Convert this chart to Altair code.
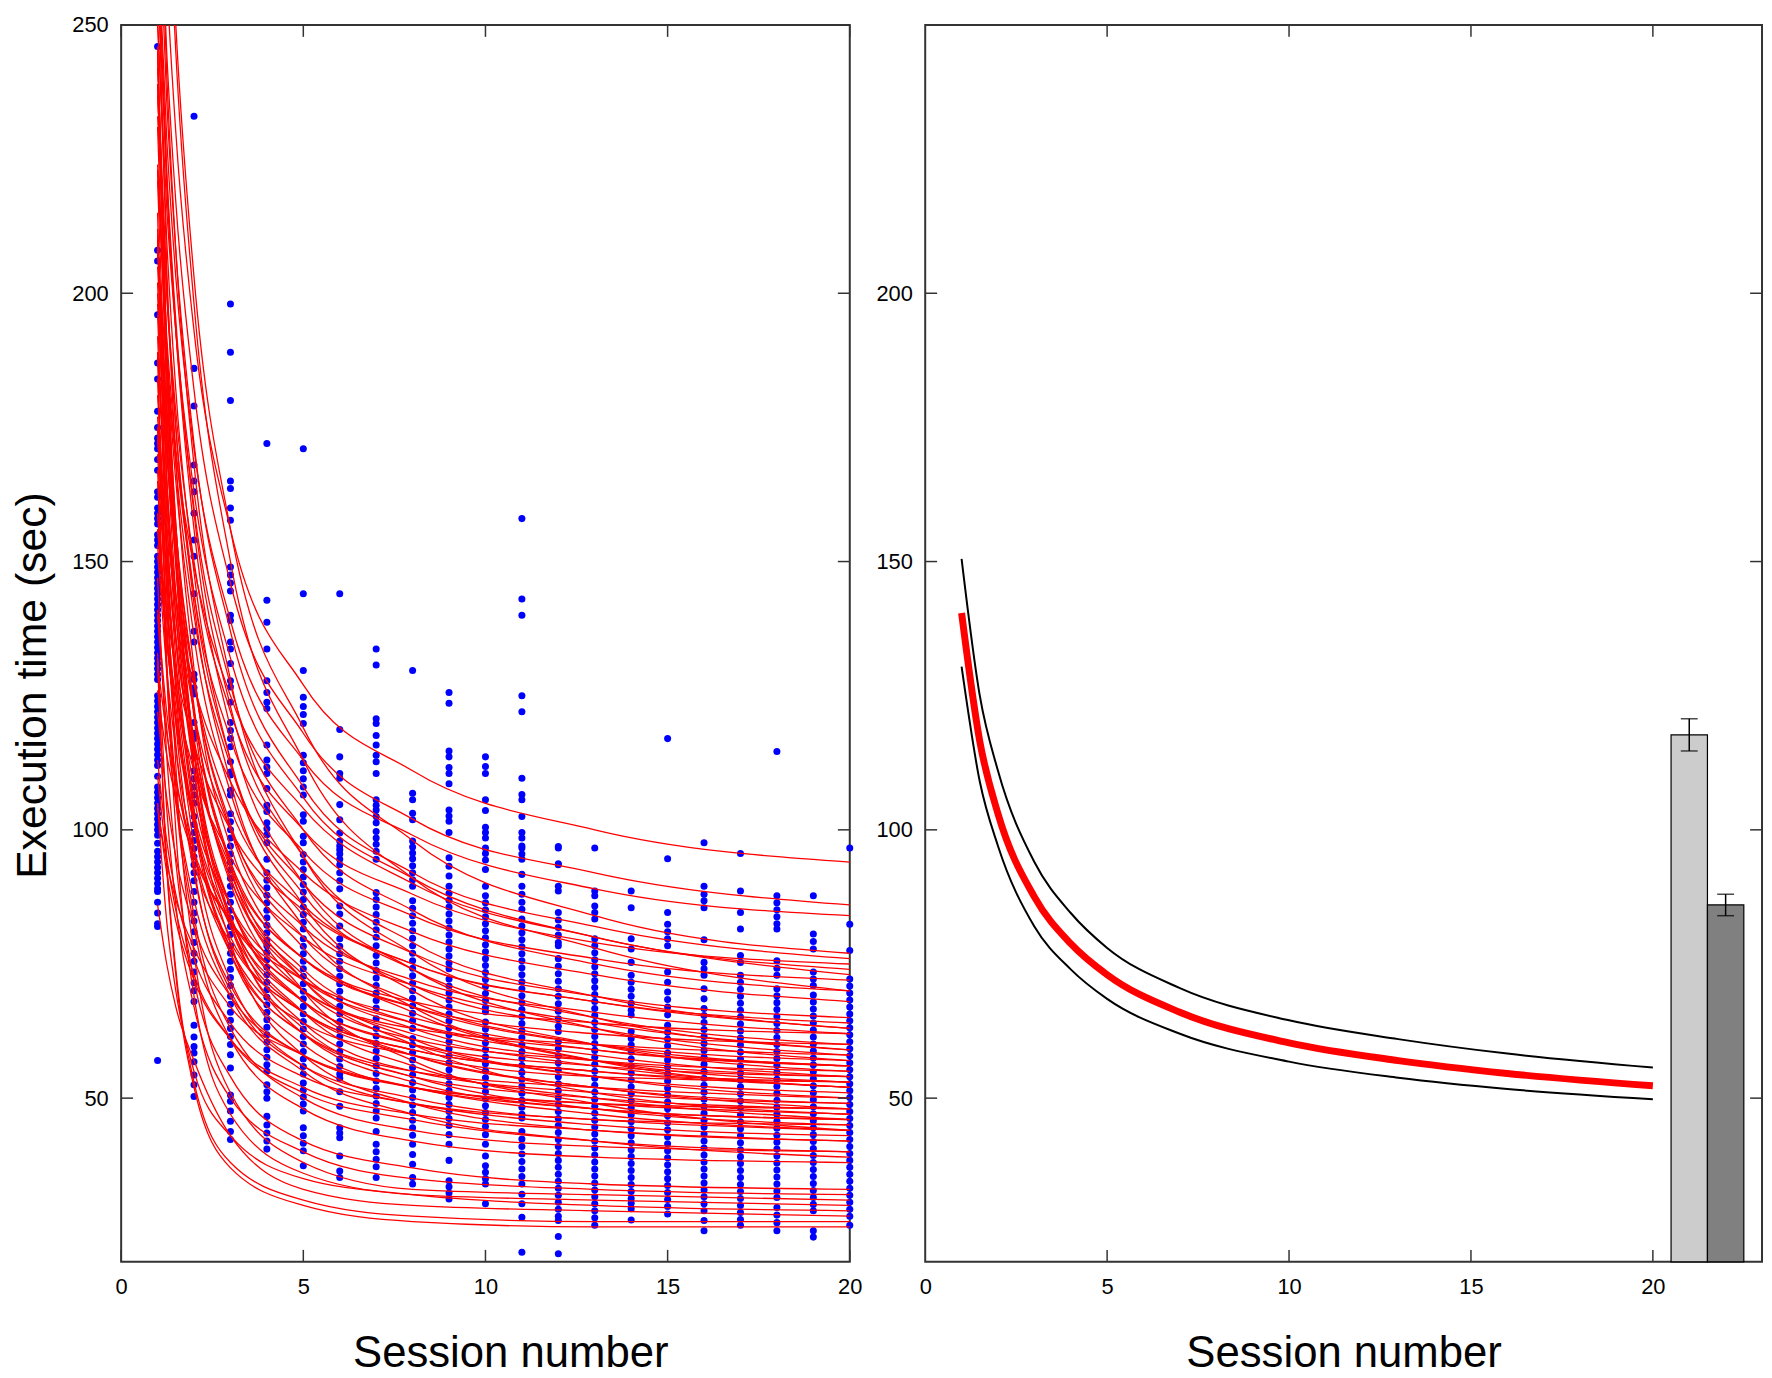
import altair as alt
import pandas as pd

# ---------------- data ----------------
# left panel: individual sessions (blue dots), one list per session
sess01 = [246, 208, 206, 196, 187, 184, 178, 175, 173, 172, 171, 169, 167, 163, 162, 160, 159, 158,
          157, 155, 154, 153, 151, 150, 149, 148, 147, 146, 145, 144, 143, 142, 141, 140, 139, 138,
          137, 136, 135, 134, 133, 132, 131, 130, 129, 128, 125, 124, 123, 122, 121, 120, 119, 118,
          117, 116, 115, 114, 113, 112, 110, 108, 107, 106, 105, 104, 103, 102, 101, 100, 99, 97.5,
          96, 95, 94, 93, 92, 91, 90, 89, 88.5, 86.5, 84.5, 82.5, 82, 57]
sess02 = [233, 186, 179, 168, 165, 163, 159, 154, 151, 144, 137, 135, 129, 128, 126.5, 125.3, 120,
          118, 117, 113.6, 111, 109.5, 108, 106.5, 105, 102.5, 101, 99.5, 98, 96.5, 95, 93.5, 92,
          90.5, 88.5, 86.5, 84.5, 83, 81, 79, 77, 75.5, 73.5, 71.5, 70, 68, 63.6, 61.4, 59.6, 58.4,
          56.8, 54.3, 52.5, 50.3]
sess03 = [198, 189, 180, 165, 163.6, 160, 157.7, 149, 147.5, 146, 144.5, 140, 139, 135, 133.7, 131,
          127.8, 126.6, 123.8, 120, 118.5, 117, 115.5, 112.7, 110.8, 110.2, 107.4, 106.5, 103, 101.5,
          100, 98.5, 97, 95.5, 94, 92.5, 91, 89.5, 88, 86.5, 85, 83.5, 82, 80.5, 78.4, 77, 75.5, 74,
          72.5, 71, 69, 67.5, 66, 64.5, 63, 61.5, 60, 58.1, 55.6, 50.6, 49.4, 47.6, 45.7, 43.8, 42.3]
sess04 = [172, 142.8, 138.7, 133.7, 127.8, 125.6, 123.8, 122.6, 115.8, 113, 111.7, 110.5, 107.7,
          104.6, 103.4, 101.3, 100.2, 99.1, 97.6, 94.5, 92, 90.6, 89.2, 87.8, 86.4, 85, 83.6, 82.2,
          80.8, 79.4, 78.4, 77.2, 75.8, 74.4, 73, 71.6, 70.2, 68.8, 67.4, 66, 64.6, 63.2, 61.8, 60.4,
          59, 57.6, 56.2, 55, 52.5, 51.2, 50, 46.6, 45, 43.5, 42, 40.5]
sess05 = [171, 144, 129.7, 124.7, 123, 121.5, 119.8, 113.9, 112.5, 111, 109.5, 108, 106.5, 102.8,
          101.6, 98.8, 97.6, 95.4, 94, 92.6, 91.2, 89.8, 88.4, 87, 85.6, 84.2, 82.8, 81.5, 79.7, 78.3,
          76.9, 75.5, 74.1, 72.7, 71.3, 69.9, 68.5, 67.1, 65.7, 64.3, 62.9, 61.5, 60.1, 58.7, 57.3,
          55.9, 54.5, 52.8, 51.5, 50.2, 48.9, 47.6, 44.5, 43, 41.6, 40.2, 37.4]
sess06 = [144, 118.7, 113.6, 110.5, 109.6, 104.7, 101.9, 99.4, 97.9, 97, 96.3, 95.5, 94.5, 93.5, 92,
          90.5, 89, 85.8, 84.3, 82.1, 79.7, 78.3, 76.9, 75.5, 74.1, 72.7, 71.3, 69.9, 68.5, 67.1, 65.7,
          64.3, 62.9, 61.5, 60.1, 58.7, 57.3, 55.9, 54.5, 53.7, 51.2, 48.5, 44.5, 43.5, 42.6, 39.2,
          36.4, 35.2]
sess07 = [133.7, 130.7, 120.7, 119.8, 117.6, 115.8, 113.9, 112.7, 110.5, 105.6, 104.6, 103.7, 102.5,
          101.3, 99.7, 98.5, 97.3, 96, 94.5, 88.3, 87, 85.6, 84.2, 82.8, 81.4, 80, 78.4, 76.6, 75.2,
          73.8, 72.4, 71, 69.6, 68.2, 66.8, 64.8, 63, 61.6, 60.2, 58.8, 57.4, 56, 54.6, 53.2, 51.8,
          50.4, 49, 47.6, 46.3, 43.8, 41.4, 40, 38.6, 37.2, 35.2]
sess08 = [129.7, 106.8, 105.6, 103.1, 101.9, 97.9, 96.8, 95.7, 94.6, 93.3, 92, 90.7, 89.5, 86.8,
          85.4, 84, 82.6, 81.2, 79.8, 78.4, 77, 75.6, 74.2, 72.8, 71.4, 70, 68.6, 67.2, 65.8, 64.4,
          63, 61.1, 59.9, 58.5, 57.1, 55.7, 54.3, 52.9, 51.5, 50.1, 48.7, 47.3, 45.9, 44.5, 43.1,
          41.4, 39.5, 37.7, 35.2, 34]
sess09 = [125.6, 123.6, 114.7, 113.6, 111.6, 110.5, 108.6, 103.7, 102.6, 101.6, 99.5, 94.8, 93.2,
          91.4, 89.5, 88.2, 86.9, 85.6, 84.3, 83, 81.7, 80.4, 79.1, 77.8, 76.5, 75.2, 74.1, 72.2,
          70.9, 69.6, 68.3, 67, 65.7, 64.4, 63.1, 61.8, 60.5, 59.2, 57.9, 56.6, 55.3, 54, 52.7, 51.4,
          50.1, 48.8, 47.5, 46.2, 44.9, 43.2, 41.4, 38.4, 34.6, 33.5, 32.3, 31.2]
sess10 = [113.6, 111.8, 110.5, 105.6, 103.6, 100.5, 99.5, 98.5, 96.6, 95.6, 94.4, 92.6, 89.5, 87.7,
          86.4, 85.1, 83.8, 82.5, 81.2, 79.9, 78.6, 77.3, 76, 74.7, 73.4, 72.1, 70.8, 69.5, 68.2,
          66.9, 66.1, 64.2, 62.9, 61.6, 60.3, 59, 57.7, 56.4, 55.1, 53.8, 52.5, 51.2, 49.9, 48.6,
          47.3, 46, 44.7, 43.2, 41.4, 39.2, 37.4, 36.2, 35, 34, 30.3]
sess11 = [158, 143, 140, 125, 122, 109.6, 106.6, 105.6, 102.5, 99.5, 98.5, 97, 96.6, 95.5, 94.5,
          91.7, 89.5, 88, 86.5, 85.2, 83.4, 82.1, 80.8, 79.5, 78.2, 76.9, 75.6, 74.3, 73, 71.7, 70.4,
          69.1, 67.8, 66.5, 65.2, 63.9, 62.6, 61.3, 60, 58.7, 57.4, 56.1, 54.8, 53.5, 52.2, 50.9,
          49.6, 48.3, 47, 46.3, 43.8, 42.4, 41, 39.6, 38.2, 36.8, 35.4, 34, 32.1, 30.3, 27.8, 21.3]
sess12 = [96.9, 96.6, 93.7, 93.5, 89.5, 88.6, 84.6, 83.2, 81.8, 80.4, 79, 78.4, 76, 74.6, 73.2, 71.8,
          70.4, 69, 67.6, 66.2, 64.8, 63.4, 62.4, 60.5, 59.2, 57.9, 56.6, 55.3, 54, 52.7, 51.4, 50.1,
          48.8, 47.5, 46.2, 44.9, 43.6, 42.3, 41, 39.7, 38.4, 37.1, 35.8, 34.5, 33.2, 31.9, 30.6,
          29.3, 28, 27.2, 24.2, 21]
sess13 = [96.6, 88.6, 87.7, 85.8, 84.6, 83.4, 79.7, 78.4, 77.1, 75.8, 74.5, 73.2, 71.9, 70.6, 69.3,
          68, 66.7, 65.4, 64.1, 62.8, 61.5, 60.2, 58.9, 57.6, 56.3, 55, 53.7, 52.4, 51.1, 49.8, 48.5,
          47.2, 45.9, 44.6, 43.3, 42, 40.7, 39.4, 38.1, 36.8, 35.5, 34.2, 32.9, 31.6, 30.3, 29, 27.7,
          26.3]
sess14 = [88.6, 85.5, 79.7, 77.8, 75.3, 72.9, 71.6, 70.3, 69, 67.7, 66.4, 65.5, 62.4, 61.1, 59.9,
          58.6, 57.3, 56, 54.7, 53.4, 52.1, 50.8, 49.5, 48.2, 46.9, 45.6, 44.3, 43, 41.7, 40.4, 39.1,
          37.8, 36.5, 35.2, 33.9, 32.6, 31.3, 30.4, 29.4, 27.3]
sess15 = [117, 94.6, 84.6, 82.4, 81, 79.7, 78.4, 73.5, 71.6, 69.8, 68.4, 67, 65.5, 63.6, 62.3, 61,
          59.7, 58.4, 57.1, 55.8, 54.5, 53.2, 51.9, 50.6, 49.3, 48, 46.7, 45.4, 44.1, 42.8, 41.5,
          40.2, 38.9, 37.6, 36.3, 35, 33.7, 32.4, 31.1, 29.8, 28.4]
sess16 = [97.6, 89.5, 88, 86.8, 85.5, 79.5, 75.3, 74.1, 72.9, 70.4, 68.5, 66.7, 65.4, 64.1, 62.8,
          61.5, 60.2, 58.9, 57.6, 56.3, 55, 53.7, 52.4, 51.1, 49.8, 48.5, 47.2, 45.9, 44.6, 43.3, 42,
          40.7, 39.4, 38.1, 36.8, 35.5, 34.2, 32.9, 31.6, 30.3, 29, 27.2, 25.3]
sess17 = [95.6, 88.6, 84.6, 81.5, 76.6, 75.3, 72.9, 71.6, 70.3, 69, 67.7, 66.4, 65.1, 63.8, 62.5,
          61.2, 59.9, 58.6, 57.3, 56, 54.7, 53.4, 52.1, 50.8, 49.5, 48.2, 46.9, 45.6, 44.3, 43, 41.7,
          40.4, 39.1, 37.8, 36.5, 35.2, 33.9, 32.6, 31.3, 30, 28.7, 27.4, 26.3]
sess18 = [114.6, 87.7, 86.4, 85.1, 83.8, 82.5, 81.5, 75.6, 74.2, 72.9, 70.4, 69.1, 67.8, 66.5, 65.2,
          63.9, 62.6, 61.3, 60, 58.7, 57.4, 56.1, 54.8, 53.5, 52.2, 50.9, 49.6, 48.3, 47, 45.7, 44.4,
          43.1, 41.8, 40.5, 39.2, 37.9, 36.6, 35.3, 34, 32.7, 31.5, 29.6, 28.2, 26.8, 25.3]
sess19 = [87.7, 80.6, 79.2, 77.8, 73.5, 72.2, 71, 69.2, 67.9, 66.6, 65.3, 64, 62.7, 61.4, 60.1, 58.8,
          57.5, 56.2, 54.9, 53.6, 52.3, 51, 49.7, 48.4, 47.1, 45.8, 44.5, 43.2, 41.9, 40.6, 39.3, 38,
          36.7, 35.4, 34.1, 32.8, 31.5, 30.2, 29, 25.3, 24.1]
sess20 = [96.6, 82.4, 77.5, 72.2, 70.9, 69.6, 68.3, 67, 65.7, 64.4, 63.1, 61.8, 60.5, 59.2, 57.9,
          56.6, 55.3, 54, 52.7, 51.4, 50.1, 48.8, 47.5, 46.2, 44.9, 43.6, 42.3, 41, 39.7, 38.4, 37.1,
          35.8, 34.5, 33.2, 31.9, 30.6, 29.3, 28, 26.3]
sessions = [sess01, sess02, sess03, sess04, sess05, sess06, sess07, sess08, sess09, sess10,
            sess11, sess12, sess13, sess14, sess15, sess16, sess17, sess18, sess19, sess20]

# left panel: individual fitted curves (red), values read at these session positions
curve_x = [1, 1.25, 1.5, 2, 3, 5, 8, 13, 20]
curves_top = [
    [303, 259, 230, 193, 156, 127, 111, 100, 94],
    [288, 245, 217, 182, 146, 118, 102, 92, 86],
    [268, 229, 203, 171, 139, 113, 99, 89, 84],
    [279, 236, 208, 172, 137, 108, 92, 82, 76],
    [233, 200, 178, 150, 122, 100, 88, 79, 75],
    [208, 186, 170, 149, 125, 104, 90, 80, 73],
    [224, 192, 171, 144, 117, 96, 84, 76, 72],
    [260, 220, 193, 160, 127, 100, 85, 75, 70],
    [173, 156, 143, 127, 109, 92, 81, 73, 68],
    [340, 283, 245, 198, 150, 113, 91, 78, 70],
    [343, 287, 250, 203, 156, 119, 98, 84, 77],
    [250, 216, 193, 163, 132, 106, 91, 80, 74],
]
curves_60s = [
    [223, 190, 168, 140, 112, 90, 77, 69, 65],
    [156, 141, 130, 116, 100, 85, 75, 68, 64],
    [266, 223, 195, 159, 123, 95, 79, 69, 63],
    [189, 162, 144, 122, 100, 82, 72, 66, 62],
    [237, 200, 175, 144, 113, 88, 74, 65, 60],
    [151, 136, 125, 111, 95, 80, 71, 64, 59],
    [263, 205, 169, 130, 97, 76, 67, 62, 60],
    [239, 188, 157, 123, 94, 76, 68, 64, 62],
    [289, 241, 208, 168, 128, 95, 77, 65, 59],
    [198, 170, 151, 128, 104, 86, 75, 68, 63],
]
curves_50s = [
    [223, 188, 165, 136, 107, 84, 71, 63, 58],
    [177, 152, 135, 114, 93, 76, 67, 60, 57],
    [208, 176, 155, 128, 101, 80, 68, 60, 56],
    [126, 114, 106, 95, 83, 72, 65, 59, 56],
    [251, 210, 182, 148, 113, 86, 70, 60, 55],
    [181, 154, 136, 114, 92, 74, 64, 58, 54],
    [231, 180, 149, 115, 86, 68, 60, 56, 54],
    [211, 178, 156, 128, 100, 78, 66, 57, 53],
    [131, 118, 109, 96, 83, 70, 62, 56, 52],
    [141, 122, 110, 94, 79, 66, 59, 55, 52],
    [210, 166, 140, 111, 86, 70, 63, 60, 58],
    [245, 190, 157, 121, 90, 70, 61, 57, 55],
    [192, 152, 128, 101, 78, 64, 58, 54, 53],
    [159, 136, 121, 102, 83, 68, 60, 54, 51],
    [266, 222, 193, 156, 119, 90, 74, 63, 57],
    [242, 202, 175, 142, 109, 82, 67, 57, 52],
    [156, 135, 121, 103, 86, 72, 64, 59, 56],
    [200, 165, 143, 117, 91, 73, 63, 57, 54],
    [170, 141, 123, 101, 80, 66, 59, 55, 53],
]
curves_40s = [
    [189, 160, 140, 116, 91, 72, 61, 54, 50],
    [239, 184, 151, 115, 84, 64, 55, 51, 49],
    [175, 148, 130, 108, 86, 68, 58, 52, 48],
    [212, 165, 136, 104, 77, 60, 52, 49, 47],
    [173, 146, 128, 106, 84, 66, 56, 50, 46],
    [122, 106, 95, 82, 69, 58, 52, 48, 46],
    [153, 130, 115, 96, 77, 62, 54, 48, 45],
    [196, 152, 126, 97, 72, 56, 49, 46, 44],
    [209, 174, 151, 122, 93, 70, 57, 49, 44],
    [113, 98, 88, 76, 64, 54, 49, 45, 43],
    [245, 187, 151, 112, 79, 58, 49, 44, 42],
    [105, 92, 83, 72, 61, 52, 47, 44, 42],
    [202, 158, 132, 103, 78, 62, 55, 52, 50],
    [175, 139, 116, 92, 71, 58, 52, 49, 48],
    [184, 144, 120, 93, 70, 56, 50, 46, 45],
    [205, 172, 150, 122, 94, 72, 60, 51, 47],
    [104, 94, 87, 78, 67, 58, 52, 47, 44],
    [159, 136, 120, 101, 82, 66, 58, 52, 49],
    [246, 189, 154, 115, 83, 62, 53, 48, 46],
    [110, 95, 85, 73, 61, 51, 46, 42, 40],
    [221, 173, 144, 111, 82, 63, 54, 50, 48],
]
curves_low = [
    [167, 131, 108, 84, 63, 50, 44, 41, 40],
    [165, 129, 106, 82, 61, 48, 42, 39, 38],
    [140, 119, 105, 87, 69, 55, 47, 42, 39],
    [147, 114, 94, 72, 54, 42, 37, 34, 33],
    [133, 104, 86, 67, 50, 40, 35, 33, 32],
    [215, 149, 112, 77, 51, 38, 33, 32, 31],
    [188, 131, 100, 69, 47, 36, 32, 31, 30],
    [105, 83, 70, 55, 43, 35, 32, 30, 29],
    [86, 75, 67, 57, 43, 33, 30, 29, 28],
    [132, 94, 74, 53, 38, 31, 28, 27, 27],
    [131, 93, 73, 52, 37, 30, 27, 26, 26],
]

# right panel: mean fit and its band
fit_x = [1, 1.5, 2, 3, 4, 5, 7, 10, 13, 16, 20]
fit_mean = [140.4, 116.5, 103, 87.5, 78.8, 73, 66, 60.3, 57, 54.6, 52.3]
fit_upper = [150.5, 125, 111, 94, 84.5, 78, 70.5, 64.5, 61, 58.3, 55.7]
fit_lower = [130.4, 109, 97, 82, 74, 68.5, 62, 56.8, 53.8, 51.7, 49.8]

# right panel: bars
bar_center = [21, 22]
bar_left = [20.5, 21.5]
bar_right = [21.5, 22.5]
bar_mean = [117.7, 86.0]
bar_err = [3.0, 2.0]
bar_fill = ["#cccccc", "#808080"]

x_ticks = [0, 5, 10, 15, 20]
y_ticks_left = [50, 100, 150, 200, 250]
y_ticks_right = [50, 100, 150, 200]

# ---------------- styling ----------------
Y_MIN, Y_MAX = 19.5, 250
W_L, W_R, H = 734, 843, 1246
TICK = 12
FRAME = "#333333"
FONT = "Liberation Sans"

# ---------------- tables ----------------
pts = pd.DataFrame([{"x": i + 1, "y": v} for i, s in enumerate(sessions) for v in s])
rows = []
cid = 0
for group in (curves_top, curves_60s, curves_50s, curves_40s, curves_low):
    for c in group:
        for xv, yv in zip(curve_x, c):
            rows.append({"x": xv, "y": yv, "curve": cid})
        cid += 1
curves_df = pd.DataFrame(rows)

fit_df = pd.DataFrame(
    [{"x": xv, "y": yv, "band": "upper"} for xv, yv in zip(fit_x, fit_upper)]
    + [{"x": xv, "y": yv, "band": "lower"} for xv, yv in zip(fit_x, fit_lower)]
)
mean_df = pd.DataFrame({"x": fit_x, "y": fit_mean})
bars_df = pd.DataFrame({"x": bar_left, "xr": bar_right, "y": bar_mean,
                        "base": [Y_MIN] * len(bar_mean), "fill": bar_fill})
err_df = pd.DataFrame({"x": bar_center,
                       "y": [m - e for m, e in zip(bar_mean, bar_err)],
                       "hi": [m + e for m, e in zip(bar_mean, bar_err)]})
caps_df = pd.DataFrame({"x": bar_center * 2,
                        "y": list(err_df["y"]) + list(err_df["hi"])})


def x_axis(title_x):
    return alt.Axis(values=x_ticks, ticks=False, domain=False, grid=False,
                    labelFontSize=22, labelPadding=15, labelFlush=False, labelColor="black",
                    labelFont=FONT, title="Session number", titleFont=FONT,
                    titleFontSize=44, titleFontWeight="normal", titleColor="black",
                    titlePadding=34, titleX=title_x)


AX_X_L = x_axis(W_L / 2 + 25)
AX_X_R = x_axis(W_R / 2)
AX_Y_L = alt.Axis(values=y_ticks_left, ticks=False, domain=False, grid=False,
                  labelFontSize=22, labelPadding=13, labelColor="black", labelFont=FONT,
                  title="Execution time (sec)", titleFont=FONT, titleFontSize=43,
                  titleFontWeight="normal", titleColor="black", titlePadding=18,
                  titleY=H / 2 + 42)
AX_Y_R = alt.Axis(values=y_ticks_right, ticks=False, domain=False, grid=False,
                  labelFontSize=22, labelPadding=13, labelColor="black", labelFont=FONT,
                  title="")

ysc = alt.Scale(domain=[Y_MIN, Y_MAX], nice=False, zero=False)
xsc_l = alt.Scale(domain=[0, 20], nice=False, zero=False)
xsc_r = alt.Scale(domain=[0, 23], nice=False, zero=False)

XL = alt.X("x:Q", scale=xsc_l, axis=AX_X_L)
YL = alt.Y("y:Q", scale=ysc, axis=AX_Y_L)
XR = alt.X("x:Q", scale=xsc_r, axis=AX_X_R)
YR = alt.Y("y:Q", scale=ysc, axis=AX_Y_R)


def tick_layers(X, Y, xvals, yvals, width):
    xt = pd.DataFrame({"x": xvals})
    yt = pd.DataFrame({"y": yvals})
    st = dict(color=FRAME, strokeWidth=1.5)
    bottom = alt.Chart(xt).mark_rule(**st).encode(x=X, y=alt.value(H), y2=alt.value(H - TICK))
    top = alt.Chart(xt).mark_rule(**st).encode(x=X, y=alt.value(0), y2=alt.value(TICK))
    left = alt.Chart(yt).mark_rule(**st).encode(y=Y, x=alt.value(0), x2=alt.value(TICK))
    right = alt.Chart(yt).mark_rule(**st).encode(y=Y, x=alt.value(width),
                                                 x2=alt.value(width - TICK))
    return [bottom, top, left, right]


# ---------------- left panel ----------------
points = alt.Chart(pts).mark_circle(size=50, color="#0000ff", opacity=1).encode(x=XL, y=YL)
lines = alt.Chart(curves_df).mark_line(color="#ff0000", strokeWidth=1.3, clip=True,
                                       interpolate="monotone").encode(
    x=XL, y=YL, detail="curve:N", order="x:Q")
left = alt.layer(points, lines, *tick_layers(XL, YL, x_ticks, y_ticks_left, W_L)).properties(
    width=W_L, height=H)

# ---------------- right panel ----------------
bars = alt.Chart(bars_df).mark_rect(stroke="black", strokeWidth=1.2).encode(
    x=XR, x2="xr:Q", y=YR, y2="base:Q", fill=alt.Fill("fill:N", scale=None))
err = alt.Chart(err_df).mark_rule(color="black", strokeWidth=1.5).encode(x=XR, y=YR, y2="hi:Q")
caps = alt.Chart(caps_df).mark_tick(color="black", orient="horizontal", size=17,
                                    thickness=1.5).encode(x=XR, y=YR)
band = alt.Chart(fit_df).mark_line(color="black", strokeWidth=2, interpolate="monotone").encode(
    x=XR, y=YR, detail="band:N", order="x:Q")
mean = alt.Chart(mean_df).mark_line(color="#ff0000", strokeWidth=7,
                                    interpolate="monotone").encode(x=XR, y=YR, order="x:Q")
right = alt.layer(bars, err, caps, band, mean,
                  *tick_layers(XR, YR, x_ticks[1:], y_ticks_right, W_R)).properties(
    width=W_R, height=H)

chart = alt.hconcat(left, right, spacing=76, bounds="flush").properties(
    padding={"left": 2, "top": 0, "right": 0, "bottom": 0},
    background="white",
).configure_view(stroke=FRAME, strokeWidth=2)

chart.save("out.html", embed_options={"renderer": "svg", "actions": False})
